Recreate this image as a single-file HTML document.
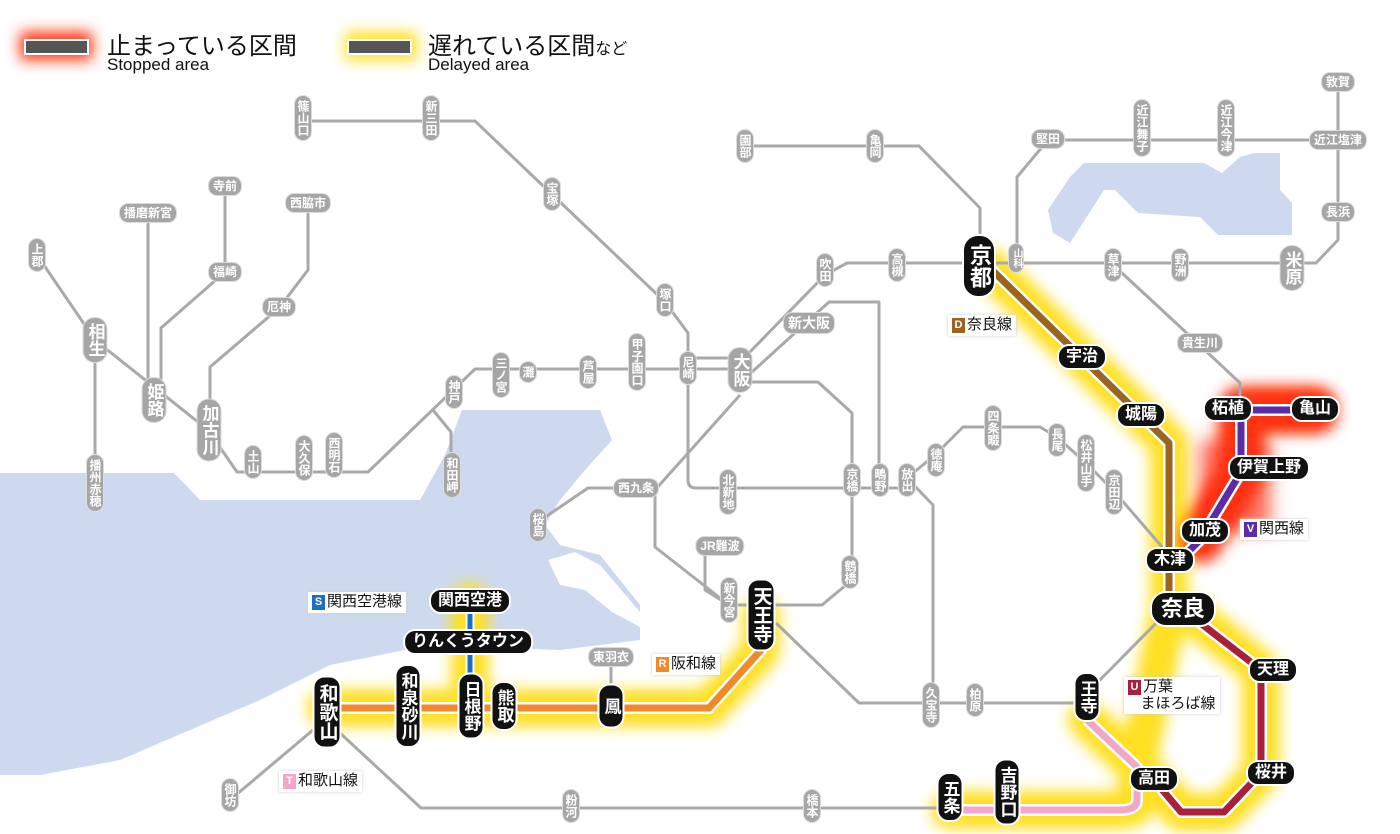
<!DOCTYPE html>
<html><head><meta charset="utf-8">
<style>
body{margin:0;width:1400px;height:834px;overflow:hidden;background:#fff;position:relative;font-family:"Liberation Sans","Noto Sans CJK JP",sans-serif}
svg{position:absolute;left:0;top:0}
.s{position:absolute;transform:translate(-50%,-50%);color:#fff;font-weight:bold;white-space:nowrap;line-height:1;text-align:center;font-family:"Liberation Sans","Noto Sans CJK JP",sans-serif}
.g{background:#a6a6a6;border:1px solid #dcdcdc;font-size:12px;padding:3px 4px;border-radius:9px}
.g.v{writing-mode:vertical-rl;padding:4px 2px}
.G{background:#a6a6a6;border:1px solid #dcdcdc;font-size:17px;padding:5px 3px;border-radius:12px;writing-mode:vertical-rl}
.b{background:#111;border:2px solid #fff;font-size:16px;padding:3px 7px;border-radius:12px}
.b.v{writing-mode:vertical-rl;padding:6px 3px;font-size:17px}
.lab{position:absolute;background:#fff;font-size:15px;color:#111;padding:2px 4px;line-height:1.1;box-shadow:0 0 3px #ccc;white-space:nowrap;font-family:"Liberation Sans","Noto Sans CJK JP",sans-serif}
.lab i{font-style:normal;display:inline-block;color:#fff;font-size:11px;font-weight:bold;width:13px;height:15px;line-height:15px;text-align:center;margin-right:2px;vertical-align:1px}
.leg{position:absolute;color:#111;font-family:"Liberation Sans","Noto Sans CJK JP",sans-serif;white-space:nowrap}
</style></head><body>
<svg width="1400" height="834" viewBox="0 0 1400 834">
<defs>
<filter id="bl" x="-50%" y="-50%" width="200%" height="200%"><feGaussianBlur stdDeviation="7"/></filter>
<filter id="bl2" x="-50%" y="-50%" width="200%" height="200%"><feGaussianBlur stdDeviation="9"/></filter>
</defs>
<!-- water -->
<polygon fill="#cdd9ef" points="0,473 174,473 200,500 420,500 445,455 462,410 600,410 612,440 585,470 560,500 545,525 560,545 600,555 640,605 640,640 560,650 430,645 330,665 300,680 260,700 120,760 40,775 0,775"/>
<polygon fill="#fff" points="548,560 575,552 600,565 640,612 640,627 612,612 585,590 560,585"/>
<polygon fill="#cdd9ef" points="1084,163 1204,163 1222,173 1240,157 1254,153 1280,153 1280,190 1292,203 1292,235 1218,235 1200,217 1138,213 1115,190 1104,190 1070,243 1053,233 1048,210 1070,177"/>
<!-- glows -->
<g filter="url(#bl)" fill="none" stroke-linejoin="round" stroke-linecap="round">
<path stroke="#ffe020" stroke-width="38" d="M990,268 L1169,443 V610 L1201,622 L1261,670 V773 L1224,812 H1181 L1154,780 M1169,610 L1137,767 V800 Q1137,810 1120,810 H950 M1087,720 L1137,767"/>
<path stroke="#ffe020" stroke-width="38" d="M761,615 V650 L709,708 H326 M470,602 V700"/>
<path stroke="#ff3010" stroke-width="46" d="M1314,410 H1241 V472 L1200,540"/>
<rect x="20" y="32" width="72" height="28" fill="#ff3010"/>
<rect x="345" y="32" width="72" height="28" fill="#ffe020"/>
</g>
<g filter="url(#bl2)"><rect x="1240" y="395" width="90" height="30" fill="#ff3010"/><rect x="1200" y="440" width="70" height="90" fill="#ff3010" opacity=".7"/></g>
<!-- gray lines -->
<g fill="none" stroke="#a9a9a9" stroke-width="3" stroke-linejoin="round">
<path d="M303,121 H475 L665,302 L688,333 V480 Q688,488 696,488 H907"/>
<path d="M37,255 L95,340 L208,430 L237,472 H368 L475,369 H740"/>
<path d="M688,358 H740"/>
<path d="M148,213 V395"/>
<path d="M225,187 V272 L161,328 V395"/>
<path d="M308,203 V270 L279,308 L210,367 V430"/>
<path d="M95,340 V483"/>
<path d="M433,410 L451,432 V480"/>
<path d="M745,146 H919 L980,208 V240"/>
<path d="M1048,140 H1338 M1338,83 V240 L1316,263 H847 L825,275 L745,357"/>
<path d="M1048,140 L1017,177 V263"/>
<path d="M752,372 L829,302 H879 V488"/>
<path d="M745,382 H818 L852,413 V580 L822,605 H729 L655,547 V490 L740,395"/>
<path d="M652,488 H588 L541,520"/>
<path d="M719,547 L705,553 V590 L729,605"/>
<path d="M1113,265 L1122,273 L1191,337 L1240,383 V410"/>
<path d="M907,478 L933,505 V703"/>
<path d="M907,478 L935,455 L963,427 H1040 L1057,437 L1086,463 L1113,490 L1169,555"/>
<path d="M1169,610 L1090,690 V703 H859 L776,623"/>
<path d="M611,657 V700"/>
<path d="M950,808 H421 L340,733"/>
<path d="M313,730 L230,800"/>
</g>
<!-- colored lines -->
<g fill="none" stroke-linejoin="round">
<path stroke="#fff" stroke-width="12" d="M990,268 L1169,443 V605"/>
<path stroke="#9b6420" stroke-width="7" d="M990,268 L1169,443 V605"/>
<path stroke="#fff" stroke-width="12" d="M1314,410 H1241 V472 L1200,540 L1180,560"/>
<path stroke="#5b2ca8" stroke-width="7" d="M1314,410 H1241 V472 L1200,540 L1180,560"/>
<path stroke="#fff" stroke-width="12" d="M761,615 V650 L709,708 H326"/>
<path stroke="#f0892a" stroke-width="7" d="M761,615 V650 L709,708 H326"/>
<path stroke="#fff" stroke-width="9" d="M470,602 V700"/>
<path stroke="#1a6fc0" stroke-width="5" d="M470,602 V700"/>
<path stroke="#fff" stroke-width="12" d="M1087,720 L1137,767 V800 Q1137,810 1120,810 H950"/>
<path stroke="#f4a6c8" stroke-width="7" d="M1087,720 L1137,767 V800 Q1137,810 1120,810 H950"/>
<path stroke="#fff" stroke-width="12" d="M1190,615 L1261,670 V773 L1224,812 H1181 L1154,780"/>
<path stroke="#a8203a" stroke-width="7" d="M1190,615 L1261,670 V773 L1224,812 H1181 L1154,780"/>
</g>
<rect x="25" y="40" width="63" height="14" fill="#555" stroke="#fff" stroke-width="2"/>
<rect x="348" y="40" width="63" height="14" fill="#555" stroke="#fff" stroke-width="2"/>
</svg>

<div class="leg" style="left:107px;top:26px;font-size:24px">止まっている区間</div>
<div class="leg" style="left:107px;top:55px;font-size:17px">Stopped area</div>
<div class="leg" style="left:428px;top:26px;font-size:24px">遅れている区間<span style="font-size:16px">など</span></div>
<div class="leg" style="left:428px;top:55px;font-size:17px">Delayed area</div>

<!-- gray stations -->
<div class="s g v" style="left:303px;top:118px">篠山口</div>
<div class="s g v" style="left:431px;top:118px">新三田</div>
<div class="s g v" style="left:552px;top:194px">宝塚</div>
<div class="s g v" style="left:665px;top:300px">塚口</div>
<div class="s g" style="left:225px;top:186px">寺前</div>
<div class="s g" style="left:148px;top:213px">播磨新宮</div>
<div class="s g" style="left:308px;top:203px">西脇市</div>
<div class="s g v" style="left:37px;top:255px">上郡</div>
<div class="s g" style="left:225px;top:272px">福崎</div>
<div class="s g" style="left:279px;top:307px">厄神</div>
<div class="s G" style="left:95px;top:340px">相生</div>
<div class="s G" style="left:154px;top:400px">姫路</div>
<div class="s G" style="left:209px;top:430px">加古川</div>
<div class="s g v" style="left:95px;top:483px">播州赤穂</div>
<div class="s g v" style="left:253px;top:462px">土山</div>
<div class="s g v" style="left:304px;top:458px">大久保</div>
<div class="s g v" style="left:334px;top:455px">西明石</div>
<div class="s g v" style="left:454px;top:392px">神戸</div>
<div class="s g v" style="left:452px;top:475px">和田岬</div>
<div class="s g v" style="left:501px;top:375px">三ノ宮</div>
<div class="s g v" style="left:528px;top:372px">灘</div>
<div class="s g v" style="left:588px;top:372px">芦屋</div>
<div class="s g v" style="left:637px;top:362px">甲子園口</div>
<div class="s g v" style="left:688px;top:368px">尼崎</div>
<div class="s G" style="left:740px;top:370px">大阪</div>
<div class="s g" style="left:809px;top:323px;font-size:14px">新大阪</div>
<div class="s g v" style="left:825px;top:270px">吹田</div>
<div class="s g v" style="left:897px;top:265px">高槻</div>
<div class="s g v" style="left:1016px;top:258px;font-size:10px">山科</div>
<div class="s g v" style="left:1113px;top:265px">草津</div>
<div class="s g v" style="left:1180px;top:265px">野洲</div>
<div class="s G" style="left:1292px;top:268px">米原</div>
<div class="s g" style="left:1338px;top:212px">長浜</div>
<div class="s g" style="left:1338px;top:140px">近江塩津</div>
<div class="s g" style="left:1338px;top:82px">敦賀</div>
<div class="s g v" style="left:1142px;top:128px">近江舞子</div>
<div class="s g v" style="left:1226px;top:128px">近江今津</div>
<div class="s g" style="left:1048px;top:139px">堅田</div>
<div class="s g v" style="left:745px;top:146px">園部</div>
<div class="s g v" style="left:875px;top:146px">亀岡</div>
<div class="s g" style="left:1200px;top:343px">貴生川</div>
<div class="s g v" style="left:993px;top:428px">四条畷</div>
<div class="s g v" style="left:936px;top:460px">徳庵</div>
<div class="s g v" style="left:1057px;top:440px">長尾</div>
<div class="s g v" style="left:1086px;top:463px">松井山手</div>
<div class="s g v" style="left:1114px;top:492px">京田辺</div>
<div class="s g v" style="left:907px;top:480px">放出</div>
<div class="s g v" style="left:880px;top:480px">鴫野</div>
<div class="s g v" style="left:852px;top:480px">京橋</div>
<div class="s g v" style="left:728px;top:492px">北新地</div>
<div class="s g" style="left:636px;top:488px">西九条</div>
<div class="s g v" style="left:538px;top:525px">桜島</div>
<div class="s g" style="left:720px;top:546px">JR難波</div>
<div class="s g v" style="left:729px;top:600px">新今宮</div>
<div class="s g v" style="left:850px;top:572px">鶴橋</div>
<div class="s g" style="left:611px;top:657px">東羽衣</div>
<div class="s g v" style="left:931px;top:705px">久宝寺</div>
<div class="s g v" style="left:975px;top:700px">柏原</div>
<div class="s g v" style="left:571px;top:806px">粉河</div>
<div class="s g v" style="left:812px;top:806px">橋本</div>
<div class="s g v" style="left:230px;top:795px">御坊</div>

<!-- black stations -->
<div class="s b v" style="left:979px;top:266px;font-size:22px;padding:8px 4px;border-radius:16px">京都</div>
<div class="s b" style="left:1082px;top:357px">宇治</div>
<div class="s b" style="left:1141px;top:415px">城陽</div>
<div class="s b" style="left:1228px;top:409px">柘植</div>
<div class="s b" style="left:1315px;top:409px">亀山</div>
<div class="s b" style="left:1269px;top:468px">伊賀上野</div>
<div class="s b" style="left:1205px;top:531px">加茂</div>
<div class="s b" style="left:1170px;top:560px">木津</div>
<div class="s b" style="left:1183px;top:609px;font-size:22px;padding:5px 9px;border-radius:16px">奈良</div>
<div class="s b" style="left:1273px;top:670px">天理</div>
<div class="s b" style="left:1271px;top:773px">桜井</div>
<div class="s b" style="left:1154px;top:779px">高田</div>
<div class="s b v" style="left:1087px;top:697px">王寺</div>
<div class="s b v" style="left:1007px;top:792px">吉野口</div>
<div class="s b v" style="left:950px;top:797px">五条</div>
<div class="s b v" style="left:761px;top:615px;font-size:19px">天王寺</div>
<div class="s b" style="left:470px;top:601px">関西空港</div>
<div class="s b" style="left:468px;top:642px">りんくうタウン</div>
<div class="s b v" style="left:471px;top:706px">日根野</div>
<div class="s b v" style="left:504px;top:706px">熊取</div>
<div class="s b v" style="left:611px;top:706px;padding:12px 3px">鳳</div>
<div class="s b v" style="left:408px;top:706px">和泉砂川</div>
<div class="s b v" style="left:327px;top:712px;font-size:19px">和歌山</div>

<!-- line labels -->
<div class="lab" style="left:948px;top:315px"><i style="background:#9b6420">D</i>奈良線</div>
<div class="lab" style="left:1240px;top:519px"><i style="background:#5b2ca8">V</i>関西線</div>
<div class="lab" style="left:308px;top:592px"><i style="background:#1a6fc0">S</i>関西空港線</div>
<div class="lab" style="left:652px;top:654px"><i style="background:#f0892a">R</i>阪和線</div>
<div class="lab" style="left:1124px;top:677px"><i style="background:#a8203a">U</i>万葉<br>&nbsp;&nbsp;&nbsp;まほろば線</div>
<div class="lab" style="left:279px;top:771px"><i style="background:#f4a6c8">T</i>和歌山線</div>
</body></html>
